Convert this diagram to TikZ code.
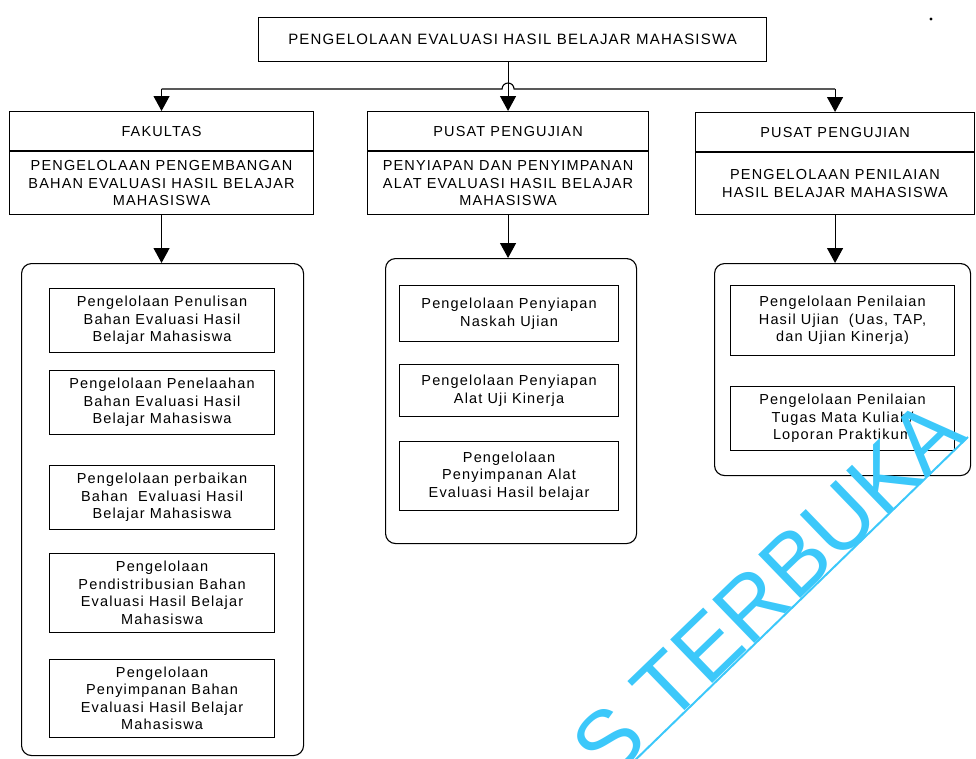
\documentclass[tikz,border=0pt]{standalone}
\usepackage{fontspec}
\setmainfont{Liberation Sans}[LetterSpace=8]
\newfontfamily\wmfont{Liberation Sans}
\usetikzlibrary{arrows.meta}
\definecolor{wmcyan}{RGB}{60,200,250}

\begin{document}
\begin{tikzpicture}[x=1pt, y=-1pt, line width=1.1pt,
  every node/.style = {font=\fontsize{14.5}{17.5}\selectfont,
    align=center, inner sep=1pt},
  box/.style = {draw, rectangle, anchor=north west},
  panel/.style = {draw, rectangle, rounded corners=10pt, anchor=north west},
  arr/.style = {-{Triangle[width=16pt,length=15pt]}}]
  \useasboundingbox (0,0) rectangle (976,758);

  \node[box, minimum width=508pt, minimum height=44pt,
    font=\fontsize{15}{18}\selectfont] (top) at (258,17)
    {PENGELOLAAN EVALUASI HASIL BELAJAR MAHASISWA};

  % headers
  \node[box, minimum width=304pt, minimum height=39pt] (fak) at (9,111) {FAKULTAS};
  \node[box, minimum width=304pt, minimum height=63pt] (fakbody) at (fak.south west)
    {PENGELOLAAN PENGEMBANGAN\\BAHAN EVALUASI HASIL BELAJAR\\MAHASISWA};
  \node[box, minimum width=281pt, minimum height=39pt] (mid) at (367,111) {PUSAT PENGUJIAN};
  \node[box, minimum width=281pt, minimum height=63pt] (midbody) at (mid.south west)
    {PENYIAPAN DAN PENYIMPANAN\\ALAT EVALUASI HASIL BELAJAR\\MAHASISWA};
  \node[box, minimum width=279pt, minimum height=39pt] (rgt) at (695,112) {PUSAT PENGUJIAN};
  \node[box, minimum width=279pt, minimum height=62pt] (rgtbody) at (rgt.south west)
    {PENGELOLAAN PENILAIAN\\HASIL BELAJAR MAHASISWA};

  % bus with line jump
  \coordinate (bus) at (0,89);
  \coordinate (cross) at (mid.north |- bus);
  \draw (fak.north |- bus) -- ([xshift=-6pt]cross)
    arc[start angle=180, end angle=360, radius=6] -- (rgt.north |- bus);
  \draw[arr] (fak.north |- bus) -- (fak.north);
  \draw[arr] (rgt.north |- bus) -- (rgt.north);
  \draw[arr] (top.south -| mid.north) -- (mid.north);

  % panels
  \node[panel, minimum width=282pt, minimum height=492pt] (lpanel) at (21,263) {};
  \node[panel, minimum width=251pt, minimum height=285pt] (mpanel) at (385,258) {};
  \node[panel, minimum width=256pt, minimum height=212pt] (rpanel) at (714,263) {};
  \draw[arr] (fakbody.south) -- (fakbody.south |- lpanel.north);
  \draw[arr] (midbody.south) -- (midbody.south |- mpanel.north);
  \draw[arr] (rgtbody.south) -- (rgtbody.south |- rpanel.north);

  % fakultas items
  \node[box, minimum width=225pt, minimum height=64pt] (l1) at (49,288)
    {Pengelolaan Penulisan\\Bahan Evaluasi Hasil\\Belajar Mahasiswa};
  \node[box, minimum width=225pt, minimum height=64pt] (l2) at (49,370)
    {Pengelolaan Penelaahan\\Bahan Evaluasi Hasil\\Belajar Mahasiswa};
  \node[box, minimum width=225pt, minimum height=64pt] (l3) at (49,465)
    {Pengelolaan perbaikan\\Bahan\ \ Evaluasi Hasil\\Belajar Mahasiswa};
  \node[box, minimum width=225pt, minimum height=79pt] (l4) at (49,553)
    {Pengelolaan\\Pendistribusian Bahan\\Evaluasi Hasil Belajar\\Mahasiswa};
  \node[box, minimum width=225pt, minimum height=78pt] (l5) at (49,659)
    {Pengelolaan\\Penyimpanan Bahan\\Evaluasi Hasil Belajar\\Mahasiswa};

  % pusat pengujian items
  \node[box, minimum width=219pt, minimum height=56pt] (m1) at (399,285)
    {Pengelolaan Penyiapan\\Naskah Ujian};
  \node[box, minimum width=219pt, minimum height=52pt] (m2) at (399,364)
    {Pengelolaan Penyiapan\\Alat Uji Kinerja};
  \node[box, minimum width=219pt, minimum height=69pt] (m3) at (399,441)
    {Pengelolaan\\Penyimpanan Alat\\Evaluasi Hasil belajar};
  \node[box, minimum width=224pt, minimum height=70pt] (r1) at (730,285)
    {Pengelolaan Penilaian\\Hasil Ujian\ \ (Uas, TAP,\\dan Ujian Kinerja)};
  \node[box, minimum width=224pt, minimum height=64pt] (r2) at (730,386)
    {Pengelolaan Penilaian\\Tugas Mata Kuliah/\\Loporan Praktikum};

  \fill (931,19) circle (1.6pt);

  % watermark
  \begin{scope}
    \clip (0,0) rectangle (976,758);
    \node[text=wmcyan, font=\wmfont\fontsize{88}{88}\selectfont, rotate=44,
      anchor=base east, inner sep=0pt] (wm) at (968,437) {S TERBUKA};
    \draw[wmcyan, line width=2pt] (wm.base east) -- ++(-340,330);
  \end{scope}
\end{tikzpicture}
\end{document}
